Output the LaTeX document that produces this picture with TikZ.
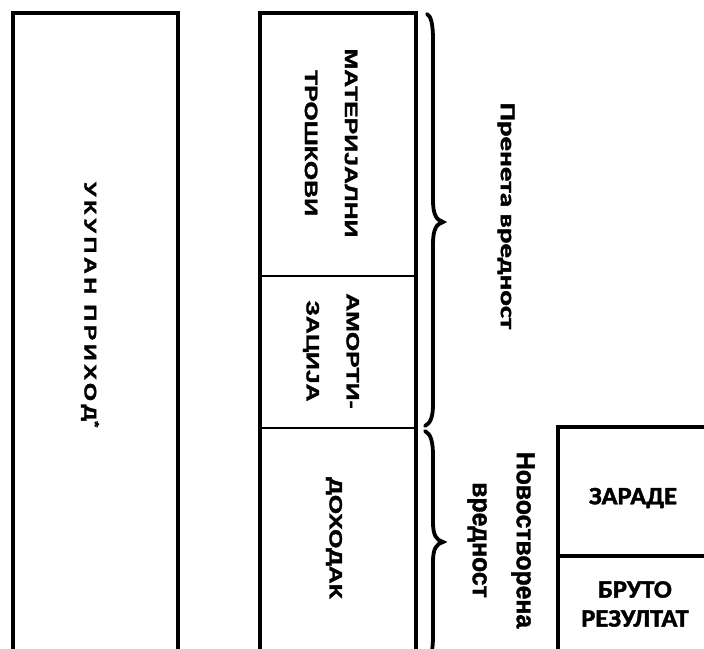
\documentclass[tikz,border=0pt]{standalone}
\usepackage{fontspec}
\setmainfont{Liberation Sans}
\newfontfamily\arialbold{Liberation Sans Bold}[FakeBold=1.6]
\newfontfamily\calbold{Carlito Bold}[FakeBold=1.6]
\tikzset{
	frame line/.style={line width=3.5pt},
	thin line/.style={line width=2pt},
	brace line/.style={line width=3.8pt,line cap=round},
	vert label/.style={rotate=-90,xscale=1.38,align=center,font=\arialbold\fontsize{18}{40}\selectfont},
	flat label/.style={xscale=1.06,align=center,font=\calbold\fontsize{25}{29}\selectfont}
}

\begin{document}
\begin{tikzpicture}[x=1pt,y=-1pt]
	\useasboundingbox (0,0) rectangle (704,648);
	\clip (0,0) rectangle (704,648);
	\draw[frame line] (13,660) -- (13,13) -- (178,13) -- (178,660);
	\draw[frame line] (260,660) -- (260,13) -- (416,13) -- (416,660);
	\draw[thin line] (260,276) -- (416,276);
	\draw[thin line] (260,428) -- (416,428);
	\draw[frame line] (558,660) -- (558,427) -- (720,427);
	\draw[frame line] (558,556) -- (720,556);
	\draw[brace line] (427,14) .. controls (431,16) and (433,24) .. (433,40) -- (433,200)
		.. controls (433,214) and (436,220) .. (443,222) .. controls (436,224) and (433,230) .. (433,244)
		-- (433,404) .. controls (433,416) and (431,423) .. (425,426);
	\draw[brace line] (425,431) .. controls (431,434) and (433,442) .. (433,456) -- (433,522)
		.. controls (433,535) and (436,540) .. (443,542) .. controls (436,544) and (433,549) .. (433,562)
		-- (433,636) .. controls (433,646) and (432,652) .. (430,660);
	\node[vert label,font=\arialbold\fontsize{17}{40}\selectfont\addfontfeature{LetterSpace=15}] (prihod) at (90,305) {УКУПАН ПРИХОД\textsuperscript{*}};
	\node[vert label] (mat) at (331,143) {МАТЕРИЈАЛНИ\\ТРОШКОВИ};
	\node[vert label] (amort) at (331,351) {АМОРТИ-\\ЗАЦИЈА};
	\node[vert label] (dohodak) at (334,538) {ДОХОДАК};
	\node[vert label,font=\calbold\fontsize{21}{40}\selectfont] (prenet) at (506,216) {Пренета вредност};
	\node[vert label,xscale=0.69,font=\arialbold\fontsize{26}{44}\selectfont] (novo) at (501,540) {Новостворена\\вредност};
	\node[flat label] (zarade) at (633,498) {ЗАРАДЕ};
	\node[flat label] (bruto) at (635,604) {БРУТО\\РЕЗУЛТАТ};
\end{tikzpicture}
\end{document}
